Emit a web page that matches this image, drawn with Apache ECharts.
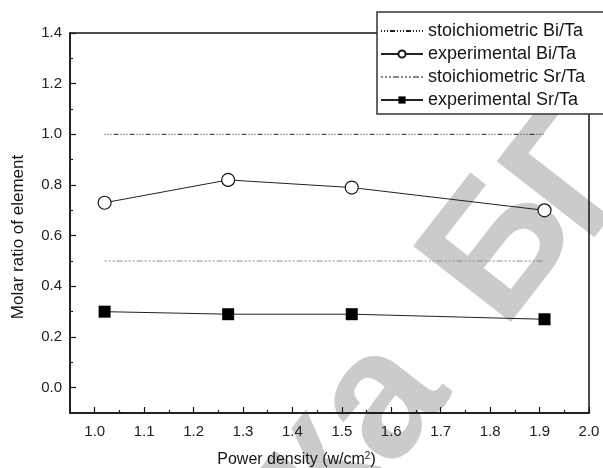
<!DOCTYPE html>
<html><head><meta charset="utf-8">
<script src="https://cdn.jsdelivr.net/npm/echarts@6/dist/echarts.min.js"></script>
<style>html,body{margin:0;padding:0;background:#fff}#c{width:603px;height:468px}</style>
</head><body><div id="c"></div>
<script>
const powerDensity = [1.02, 1.27, 1.52, 1.91];
const stoichBi = [1.0, 1.0, 1.0, 1.0];
const expBi = [0.73, 0.82, 0.79, 0.70];
const stoichSr = [0.5, 0.5, 0.5, 0.5];
const expSr = [0.30, 0.29, 0.29, 0.27];
const xMajorTicks = [1.0, 1.1, 1.2, 1.3, 1.4, 1.5, 1.6, 1.7, 1.8, 1.9, 2.0];
const xMinorTicks = [1.05, 1.15, 1.25, 1.35, 1.45, 1.55, 1.65, 1.75, 1.85, 1.95];
const yMajorTicks = [0.0, 0.2, 0.4, 0.6, 0.8, 1.0, 1.2, 1.4];
const yMinorTicks = [0.1, 0.3, 0.5, 0.7, 0.9, 1.1, 1.3];
const seriesNames = ['stoichiometric Bi/Ta', 'experimental Bi/Ta', 'stoichiometric Sr/Ta', 'experimental Sr/Ta'];
const watermarkLetters = ['к', 'а', 'Б', 'Г', 'У'];

const zip = (xs, ys) => xs.map((x, i) => [x, ys[i]]);
const FONT = 'Liberation Sans';
const INK = '#151515';
const chart = echarts.init(document.getElementById('c'), null, {renderer: 'canvas'});

const baseX = {type: 'value', min: 0.95, max: 2.0, gridIndex: 0, position: 'bottom',
  splitLine: {show: false}, axisLine: {onZero: false, lineStyle: {color: INK, width: 1.5}}};
const baseY = {type: 'value', min: -0.1, max: 1.4, gridIndex: 0, position: 'left',
  splitLine: {show: false}, axisLine: {onZero: false, lineStyle: {color: INK, width: 1.5}}};

// watermark letter placement (visual decoration only)
const wmPos = [[315, 472], [383, 402], [504, 250], [579, 176], [643, 94]];
const wmRot = 0.91;

chart.setOption({
  animation: false,
  backgroundColor: '#fff',
  textStyle: {fontFamily: FONT},
  grid: {left: 70, right: 14, top: 33, bottom: 55, show: true, borderColor: INK, borderWidth: 1.5,
    backgroundColor: 'transparent', containLabel: false, outerBoundsMode: 'none'},
  xAxis: [
    Object.assign({}, baseX, {
      name: 'Power density (w/cm{sup|2})', nameLocation: 'middle', nameGap: 38,
      nameTextStyle: {fontSize: 16, color: INK, fontFamily: FONT, padding: [0, 66, 0, 0],
        rich: {sup: {fontSize: 10, verticalAlign: 'top', padding: [0, 0, 8, 0], color: INK, fontFamily: FONT}}},
      axisTick: {show: true, inside: true, length: 6, customValues: xMajorTicks, lineStyle: {color: INK, width: 1.2}},
      axisLabel: {show: true, customValues: xMajorTicks, margin: 11, fontSize: 15, color: '#222', fontFamily: FONT,
        formatter: v => Number(v).toFixed(1)}
    }),
    Object.assign({}, baseX, {
      axisLine: {show: false, onZero: false},
      axisTick: {show: true, inside: true, length: 3, customValues: xMinorTicks, lineStyle: {color: INK, width: 1.2}},
      axisLabel: {show: false, customValues: xMinorTicks}
    })
  ],
  yAxis: [
    Object.assign({}, baseY, {
      name: 'Molar ratio of element', nameLocation: 'middle', nameGap: 43,
      nameTextStyle: {fontSize: 17, color: INK, fontFamily: FONT, padding: [0, 28, 0, 0]},
      axisTick: {show: true, inside: true, length: 6, customValues: yMajorTicks, lineStyle: {color: INK, width: 1.2}},
      axisLabel: {show: true, customValues: yMajorTicks, margin: 8, fontSize: 15, color: '#222', fontFamily: FONT,
        formatter: v => Number(v).toFixed(1)}
    }),
    Object.assign({}, baseY, {
      axisLine: {show: false, onZero: false},
      axisTick: {show: true, inside: true, length: 3, customValues: yMinorTicks, lineStyle: {color: INK, width: 1.2}},
      axisLabel: {show: false, customValues: yMinorTicks}
    })
  ],
  legend: {
    left: 377, top: 12, orient: 'vertical',
    padding: [10, 40, 5, 3], itemGap: 5, itemWidth: 42, itemHeight: 9,
    backgroundColor: '#fff', borderColor: '#333', borderWidth: 1.5,
    textStyle: {fontSize: 18, color: INK, fontFamily: FONT},
    data: [
      {name: seriesNames[0], itemStyle: {color: 'transparent', borderColor: 'transparent', borderWidth: 0}},
      {name: seriesNames[1]},
      {name: seriesNames[2], itemStyle: {color: 'transparent', borderColor: 'transparent', borderWidth: 0}},
      {name: seriesNames[3]}
    ]
  },
  graphic: watermarkLetters.map((t, i) => ({
    type: 'text', z: -10, silent: true, x: wmPos[i][0], y: wmPos[i][1], rotation: wmRot,
    style: {text: t, fontSize: 180, fontWeight: 'bold', fontFamily: FONT, fill: '#cbcbcb', align: 'center', verticalAlign: 'middle'}
  })),
  series: [
    {name: seriesNames[0], type: 'line', data: zip(powerDensity, stoichBi), symbol: 'none', color: '#222', z: 3,
      lineStyle: {color: '#222', width: 1, type: [1, 2, 1, 2, 1, 2, 5, 2]}},
    {name: seriesNames[1], type: 'line', data: zip(powerDensity, expBi), symbol: 'circle', symbolSize: 13, color: INK, z: 3,
      itemStyle: {color: '#fff', borderColor: INK, borderWidth: 1.2},
      lineStyle: {color: '#222', width: 1}},
    {name: seriesNames[2], type: 'line', data: zip(powerDensity, stoichSr), symbol: 'none', color: '#888', z: 3,
      lineStyle: {color: '#888', width: 1, type: [2, 2, 2, 2, 2, 2, 6, 2]}},
    {name: seriesNames[3], type: 'line', data: zip(powerDensity, expSr), symbol: 'rect', symbolSize: 12, color: '#000', z: 3,
      itemStyle: {color: '#000'},
      lineStyle: {color: '#222', width: 1}}
  ]
});
</script></body></html>
